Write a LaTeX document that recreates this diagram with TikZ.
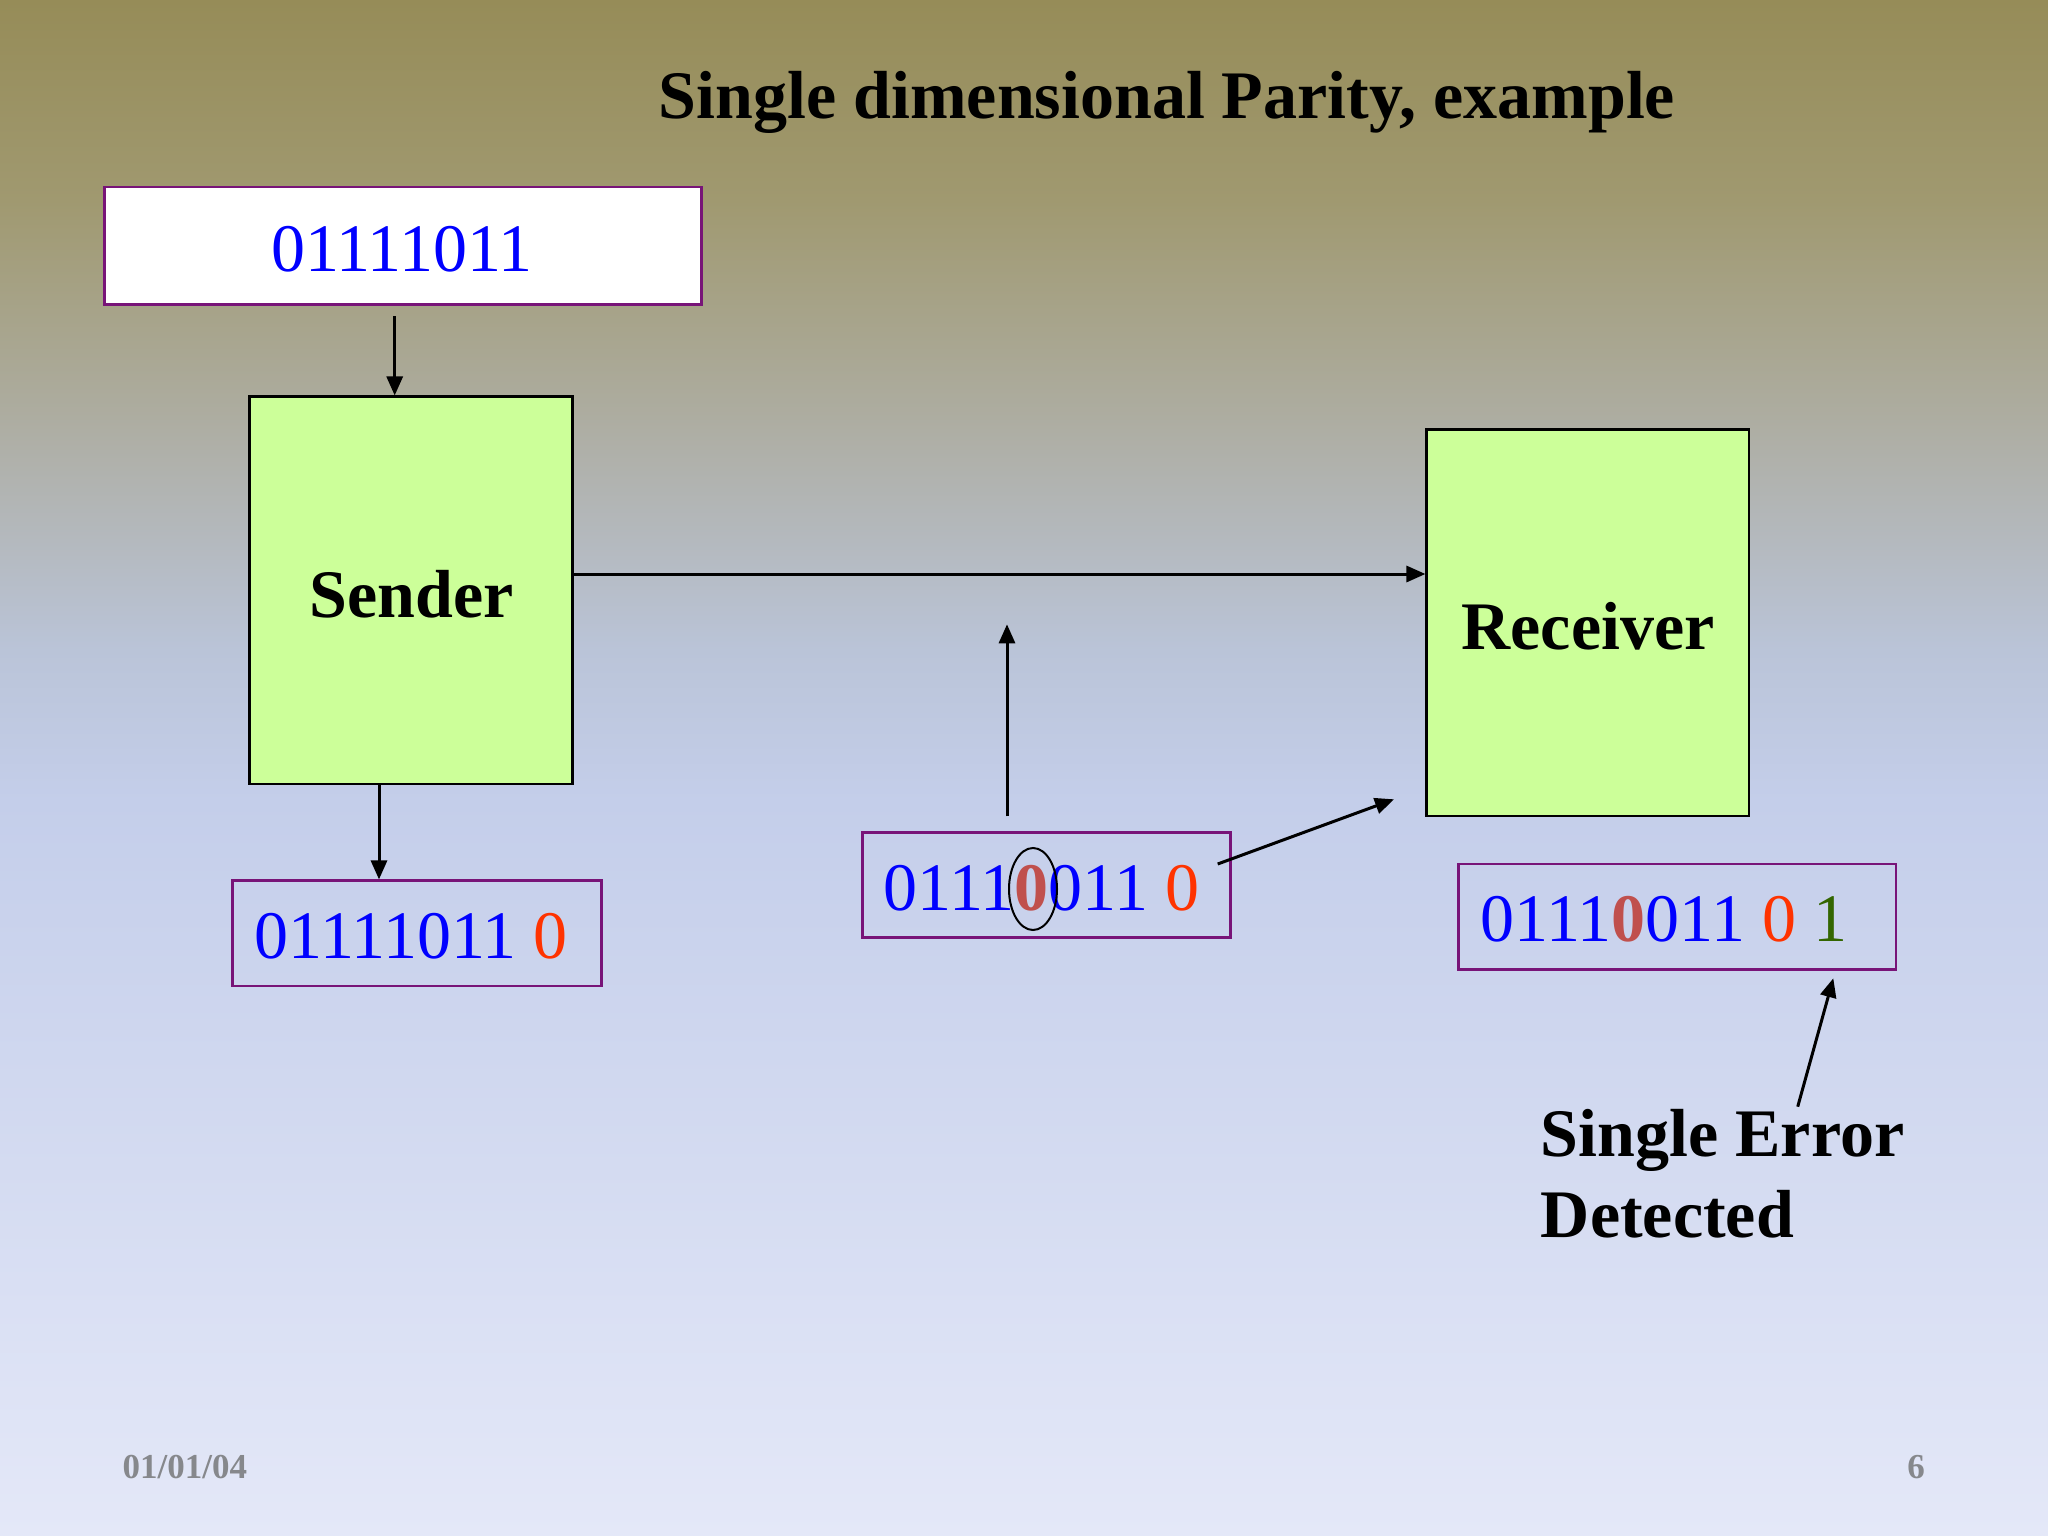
\documentclass[tikz,border=0pt]{standalone}
\usepackage{fontspec}
\setmainfont{Liberation Serif}
\usetikzlibrary{arrows.meta,shapes.geometric}
\definecolor{bgA}{RGB}{150,140,88}
\definecolor{bgB}{RGB}{160,153,112}
\definecolor{bgC}{RGB}{174,174,164}
\definecolor{bgD}{RGB}{186,196,216}
\definecolor{bgE}{RGB}{196,206,234}
\definecolor{bgF}{RGB}{228,232,248}
\definecolor{boxpurple}{RGB}{120,20,120}
\definecolor{procfill}{RGB}{204,255,153}
\definecolor{digblue}{RGB}{0,0,255}
\definecolor{parred}{RGB}{255,51,0}
\definecolor{errbrown}{RGB}{192,80,77}
\definecolor{chkgreen}{RGB}{51,102,0}
\definecolor{footgray}{RGB}{134,136,140}
\newcommand{\digfont}{\fontsize{68}{81}\selectfont}
\newcommand{\labfont}{\fontsize{68}{81}\selectfont\bfseries}
\newcommand{\footfont}{\fontsize{35}{42}\selectfont\bfseries}
\begin{document}
\begin{tikzpicture}[x=1pt,y=-1pt,
  databox/.style={draw=boxpurple,line width=2.5pt,inner sep=0pt},
  procbox/.style={draw=black,fill=procfill,line width=2.5pt,inner sep=0pt},
  txt/.style={inner sep=0pt,anchor=base west},
  lab/.style={inner sep=0pt,anchor=base,font=\labfont},
  conn/.style={line width=3pt,-{Triangle[length=19pt,width=16pt]}},
]
\useasboundingbox (0,0) rectangle (2048,1536);
% background gradient
\shade[top color=bgA,bottom color=bgB] (0,0) rectangle (2048,201);
\shade[top color=bgB,bottom color=bgC] (0,200) rectangle (2048,431);
\shade[top color=bgC,bottom color=bgD] (0,430) rectangle (2048,651);
\shade[top color=bgD,bottom color=bgE] (0,650) rectangle (2048,801);
\shade[top color=bgE,bottom color=bgF] (0,800) rectangle (2048,1536);

% title
\node[lab] (title) at (1167,118.3) {Single dimensional Parity, example};

% boxes
\node[databox,fill=white,minimum width=597pt,minimum height=117.5pt] (topbox) at (403,245.5) {};
\node[procbox,minimum width=323.2pt,minimum height=387.3pt] (sender) at (411.1,590.35) {};
\node[procbox,minimum width=322.3pt,minimum height=386.3pt] (receiver) at (1587.85,622.85) {};
\node[databox,minimum width=369pt,minimum height=105.3pt] (box2) at (417.2,933.35) {};
\node[databox,minimum width=368.4pt,minimum height=105pt] (box3) at (1046.5,884.8) {};
\node[databox,minimum width=437.7pt,minimum height=105.3pt] (box4) at (1677.15,916.65) {};

% texts
\node[txt,font=\digfont,text=digblue] (t1) at (270.8,271) {01111011};
\node[lab] (slab) at (411.4,617) {Sender};
\node[lab] (rlab) at (1588,649) {Receiver};
\node[txt,font=\digfont] (t2) at (254.4,958.3) {\textcolor{digblue}{01111011} \textcolor{parred}{0}};
\node[txt,font=\digfont] (t3) at (883.4,910) {\textcolor{digblue}{0111}\textcolor{errbrown}{\bfseries 0}\textcolor{digblue}{011} \textcolor{parred}{0}};
\node[txt,font=\digfont] (t4) at (1480.7,941.7) {\textcolor{digblue}{0111}\textcolor{errbrown}{\bfseries 0}\textcolor{digblue}{011} \textcolor{parred}{0} \textcolor{chkgreen}{1}};
\node[draw=black,line width=2pt,ellipse,inner sep=0pt,minimum width=48pt,minimum height=82pt] (circ) at (1033,889) {};
\node[txt,font=\labfont] (err1) at (1540.7,1156) {Single Error};
\node[txt,font=\labfont] (err2) at (1540.7,1237) {Detected};
\node[txt,font=\footfont,text=footgray] (date) at (122.5,1478.3) {01/01/04};
\node[inner sep=0pt,anchor=base,font=\footfont,text=footgray] (page) at (1916,1478.3) {6};

% connectors
\coordinate (a1) at (394.7,316);
\draw[conn] (a1) -- (a1 |- sender.north);
\coordinate (hy) at (0,574);
\draw[conn] (sender.east |- hy) -- (receiver.west |- hy);
\coordinate (vx) at (379,0);
\draw[conn] (sender.south -| vx) -- (box2.north -| vx);
\coordinate (u1) at (1007,816.3);
\coordinate (u2) at (1007,624.3);
\draw[conn] (u1) -- (u2);
\coordinate (d1) at (1217.7,864);
\coordinate (d2) at (1394,799.3);
\draw[conn] (d1) -- (d2);
\coordinate (e1) at (1797.7,1106.7);
\coordinate (e2) at (1833.3,978.3);
\draw[conn] (e1) -- (e2);
\end{tikzpicture}
\end{document}
